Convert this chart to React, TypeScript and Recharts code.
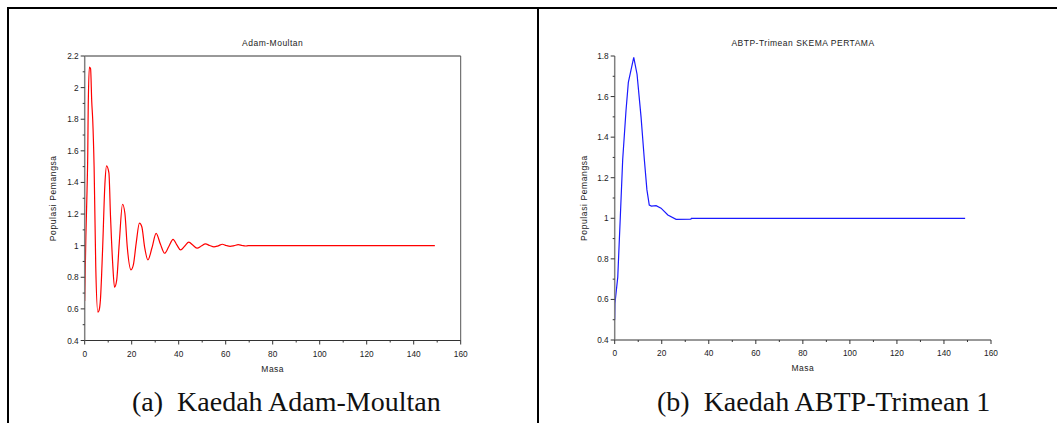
import React from "react";
import { LineChart, Line, XAxis, YAxis, ReferenceLine, Label } from "recharts";

// ---- data ----
const adamTime = [0, 0.5, 1.0, 1.3, 1.5, 2.0, 2.5, 3.0, 3.4, 4.0, 4.7, 5.6, 6.1, 6.7, 7.6, 8.6, 9.3, 10.3, 11.0, 11.9, 12.7, 13.6, 14.7, 16.1, 17.1, 18.1, 19.7, 20.7, 21.9, 23.3, 24.3, 25.5, 26.9, 28.6, 30.4, 32.2, 34.0, 35.8, 37.6, 39.2, 40.8, 42.6, 44.3, 46.1, 47.9, 49.6, 51.4, 53.2, 55.0, 56.8, 58.6, 60.2, 61.9, 63.6, 65.3, 67.0, 68.6, 69.5, 149];
const adamValue = [0.65, 1.06, 1.35, 1.58, 1.88, 2.13, 2.12, 1.91, 1.8, 1.5, 0.87, 0.58, 0.59, 0.66, 0.97, 1.39, 1.505, 1.46, 1.18, 0.89, 0.737, 0.78, 1.015, 1.262, 1.205, 0.994, 0.847, 0.878, 1.015, 1.142, 1.12, 0.99, 0.91, 0.985, 1.078, 1.01, 0.952, 0.995, 1.04, 1.005, 0.973, 0.998, 1.022, 1.002, 0.984, 0.998, 1.011, 1.001, 0.992, 0.999, 1.009, 1.001, 0.996, 1.0, 1.006, 1.001, 0.998, 1.0, 1.0];

const abtpTime = [0, 0.1, 1.3, 2.4, 3.4, 4.8, 5.8, 8.1, 9.5, 11.2, 12.6, 13.7, 14.7, 15.6, 17.6, 19.7, 22.6, 26.1, 32.4, 32.6, 149];
const abtpValue = [0.5, 0.58, 0.71, 1.01, 1.29, 1.53, 1.67, 1.793, 1.71, 1.5, 1.29, 1.14, 1.065, 1.06, 1.062, 1.05, 1.016, 0.995, 0.996, 1.0, 1.0];

const xTicks = [0, 10, 20, 30, 40, 50, 60, 70, 80, 90, 100, 110, 120, 130, 140, 150, 160];
const adamYTicks = [0.4, 0.5, 0.6, 0.7, 0.8, 0.9, 1.0, 1.1, 1.2, 1.3, 1.4, 1.5, 1.6, 1.7, 1.8, 1.9, 2.0, 2.1, 2.2];
const abtpYTicks = [0.4, 0.5, 0.6, 0.7, 0.8, 0.9, 1.0, 1.1, 1.2, 1.3, 1.4, 1.5, 1.6, 1.7, 1.8];

const titleA = "Adam-Moultan";
const titleB = "ABTP-Trimean SKEMA PERTAMA";
const captionA = "(a)  Kaedah Adam-Moultan";
const captionB = "(b)  Kaedah ABTP-Trimean 1";
const xLabel = "Masa";
const yLabel = "Populasi Pemangsa";

const adamData = adamTime.map((t, i) => ({ t, v: adamValue[i] }));
const abtpData = abtpTime.map((t, i) => ({ t, v: abtpValue[i] }));

const SANS = "'Liberation Sans', Arial, sans-serif";
const SERIF = "'Liberation Serif', 'Times New Roman', serif";

const fmt = (v: number) => String(Math.round(v * 10) / 10);

const XTick = (props: any) => {
  const { x, y, payload } = props;
  const v = payload.value as number;
  const major = Math.round(v) % 20 === 0;
  return (
    <g>
      <line x1={x} y1={y} x2={x} y2={y + (major ? 4 : 2)} stroke="#333" strokeWidth={1} />
      {major && (
        <text x={x} y={y + 16} textAnchor="middle" fontSize={8.3} fontFamily={SANS} fill="#222">
          {fmt(v)}
        </text>
      )}
    </g>
  );
};

const YTick = (props: any) => {
  const { x, y, payload } = props;
  const v = payload.value as number;
  const major = Math.round(v * 10) % 2 === 0;
  return (
    <g>
      <line x1={x} y1={y} x2={x - (major ? 4 : 2)} y2={y} stroke="#333" strokeWidth={1} />
      {major && (
        <text x={x - 6} y={y + 3} textAnchor="end" fontSize={8.3} fontFamily={SANS} fill="#222">
          {fmt(v)}
        </text>
      )}
    </g>
  );
};

const labelStyle = { letterSpacing: 0.5 };

export default function App() {
  return (
    <div style={{ position: "absolute", left: 0, top: 0, width: 1057, height: 423, background: "#fff", overflow: "hidden" }}>
      <div style={{ position: "absolute", left: 0, top: 0 }}>
        <LineChart width={540} height={380} data={adamData} margin={{ top: 56, right: 79.3, bottom: 9.5, left: 34.7 }}>
          <XAxis
            dataKey="t"
            type="number"
            domain={[0, 160]}
            ticks={xTicks}
            interval={0}
            tickSize={0}
            tickMargin={0}
            tickLine={false}
            tick={<XTick />}
            height={30}
            axisLine={{ stroke: "#333", strokeWidth: 1 }}
            allowDataOverflow
          >
            <Label value={xLabel} position="insideBottom" offset={-1} fontSize={8.5} fontFamily={SANS} fill="#222" style={labelStyle} />
          </XAxis>
          <YAxis
            type="number"
            domain={[0.4, 2.2]}
            ticks={adamYTicks}
            interval={0}
            tickSize={0}
            tickMargin={0}
            tickLine={false}
            tick={<YTick />}
            width={50}
            axisLine={{ stroke: "#808080", strokeWidth: 1.5 }}
            allowDataOverflow
          >
            <Label value={yLabel} angle={-90} position="insideLeft" offset={18} fontSize={8.5} fontFamily={SANS} fill="#222" style={{ textAnchor: "middle", letterSpacing: 0.6 }} />
          </YAxis>
          <ReferenceLine y={2.2} stroke="#333" strokeWidth={1} />
          <ReferenceLine x={160} stroke="#555" strokeWidth={1} />
          <Line type="monotone" dataKey="v" stroke="#ff0000" strokeWidth={1.2} dot={false} isAnimationActive={false} />
        </LineChart>
      </div>
      <div style={{ position: "absolute", left: 540, top: 0 }}>
        <LineChart width={517} height={380} data={abtpData} margin={{ top: 56, right: 66, bottom: 10, left: 24.7 }}>
          <XAxis
            dataKey="t"
            type="number"
            domain={[0, 160]}
            ticks={xTicks}
            interval={0}
            tickSize={0}
            tickMargin={0}
            tickLine={false}
            tick={<XTick />}
            height={30}
            axisLine={{ stroke: "#333", strokeWidth: 1 }}
            allowDataOverflow
          >
            <Label value={xLabel} position="insideBottom" offset={-1} fontSize={8.5} fontFamily={SANS} fill="#222" style={labelStyle} />
          </XAxis>
          <YAxis
            type="number"
            domain={[0.4, 1.8]}
            ticks={abtpYTicks}
            interval={0}
            tickSize={0}
            tickMargin={0}
            tickLine={false}
            tick={<YTick />}
            width={50}
            axisLine={{ stroke: "#808080", strokeWidth: 1.5 }}
            allowDataOverflow
          >
            <Label value={yLabel} angle={-90} position="insideLeft" offset={19} fontSize={8.5} fontFamily={SANS} fill="#222" style={{ textAnchor: "middle", letterSpacing: 0.6 }} />
          </YAxis>
          <Line type="linear" dataKey="v" stroke="#1a1aff" strokeWidth={1.2} dot={false} isAnimationActive={false} />
        </LineChart>
      </div>
      <svg width={1057} height={423} style={{ position: "absolute", left: 0, top: 0, pointerEvents: "none" }}>
        <rect x={7} y={7} width={1050} height={2} fill="#000" />
        <rect x={7} y={7} width={2} height={416} fill="#000" />
        <rect x={537} y={7} width={2} height={416} fill="#000" />
        <text x={272.7} y={46} textAnchor="middle" fontSize={8.5} fontFamily={SANS} fill="#222" style={labelStyle}>{titleA}</text>
        <text x={803} y={46} textAnchor="middle" fontSize={8.5} fontFamily={SANS} fill="#222" style={labelStyle}>{titleB}</text>
        <text x={132} y={411} fontSize={28} fontFamily={SERIF} fill="#111" style={{ whiteSpace: "pre" }}>{captionA}</text>
        <text x={657} y={411} fontSize={28} fontFamily={SERIF} fill="#111" style={{ whiteSpace: "pre" }}>{captionB}</text>
      </svg>
    </div>
  );
}
